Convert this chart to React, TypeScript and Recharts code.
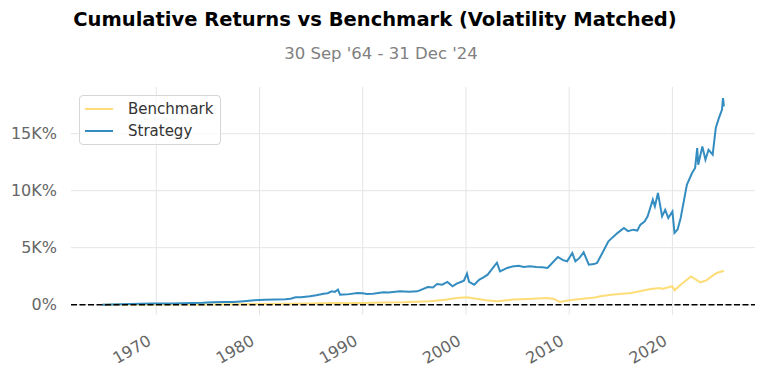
import React from "react";
import { LineChart, Line, XAxis, YAxis, ReferenceLine } from "recharts";

const strategyYears = [1964.75,1965.5,1966.5,1967.5,1968.5,1969.5,1970.5,1971.5,1972.5,1973.5,1974.5,1975.5,1976.5,1977.5,1978.5,1979.5,1980.5,1981.5,1982.5,1983.0,1983.5,1984.0,1984.9,1985.5,1986.2,1986.6,1987.0,1987.3,1987.6,1987.8,1988.5,1989.5,1990.0,1990.4,1991.0,1992.0,1992.5,1993.6,1994.5,1995.3,1996.3,1996.8,1997.2,1997.7,1998.2,1998.7,1999.1,1999.5,1999.8,2000.1,2000.3,2000.8,2001.3,2001.7,2002.1,2002.5,2003.0,2003.3,2003.7,2004.0,2004.5,2005.1,2005.6,2006.2,2006.8,2007.4,2007.9,2008.4,2008.9,2009.4,2009.8,2010.3,2010.6,2011.0,2011.4,2011.9,2012.4,2012.7,2013.3,2013.8,2014.2,2014.7,2015.3,2015.7,2016.2,2016.6,2016.9,2017.3,2017.6,2018.1,2018.3,2018.6,2019.0,2019.3,2019.6,2020.0,2020.2,2020.5,2020.8,2021.1,2021.4,2021.9,2022.2,2022.4,2022.5,2022.9,2023.2,2023.5,2023.9,2024.2,2024.5,2024.8,2024.9,2024.99];
const strategyValues = [0,20,40,60,80,90,100,110,120,140,160,210,220,240,300,380,430,460,480,520,640,640,730,820,960,1000,1170,1120,1320,880,900,1030,1000,940,960,1080,1060,1170,1120,1170,1550,1500,1810,1750,1990,1610,1850,1990,2100,2720,2000,1750,2200,2400,2630,3100,3680,2920,3100,3220,3350,3420,3300,3360,3300,3280,3220,3700,4180,3900,3800,4530,3800,4100,4590,3510,3560,3660,4680,5550,5900,6300,6720,6450,6580,6500,7020,7300,7750,9210,8620,9800,7750,8330,7600,8180,6290,6600,7600,9060,10520,11550,12000,13740,12280,13880,12720,13590,13160,15500,16370,17100,18130,17390];

const benchmarkYears = [1964.75,1967,1970,1973,1975,1978,1980,1983,1985,1987.6,1988,1990,1992,1994,1996.5,1998,1999.1,2000.1,2001,2002,2003,2004.6,2006,2007.9,2008.5,2009.1,2010,2011.1,2012.5,2013,2014.3,2016,2017.9,2018.8,2019,2020,2020.2,2020.8,2021.8,2022.7,2023.3,2023.8,2024.3,2024.99];
const benchmarkValues = [0,5,10,20,20,40,60,80,100,150,120,150,180,200,290,420,590,640,520,380,290,440,500,590,500,240,380,500,620,730,880,1030,1380,1460,1380,1610,1260,1750,2480,1960,2130,2480,2780,2980];

const xTicks = [1970, 1980, 1990, 2000, 2010, 2020];
const yTicks = [0, 5000, 10000, 15000];
const yTickLabels = ["0%", "5K%", "10K%", "15K%"];

const strategyData = strategyYears.map((x, i) => ({ x, v: strategyValues[i] }));
const benchmarkData = benchmarkYears.map((x, i) => ({ x, v: benchmarkValues[i] }));

const FONT = "DejaVu Sans, sans-serif";
const GRID = "#e5e5e5";

const XTick = (props: any) => {
  const { x, y, payload } = props;
  return (
    <g transform={`translate(${x - 4},${y + 29})`}>
      <text textAnchor="end" transform="rotate(-30)" fill="#666" fontSize={16} fontFamily={FONT}>
        {payload.value}
      </text>
    </g>
  );
};

const LegendBox = () => (
  <div
    style={{
      position: "absolute",
      left: 79,
      top: 95,
      width: 142,
      height: 50,
      border: "1px solid #d6d6d6",
      borderRadius: 4,
      background: "rgba(255,255,255,0.8)",
      fontFamily: FONT,
      fontSize: 15,
      color: "#333",
      boxSizing: "border-box",
      paddingTop: 2,
    }}
  >
    {[
      { name: "Benchmark", color: "#fedd78" },
      { name: "Strategy", color: "#348dc1" },
    ].map((e) => (
      <div key={e.name} style={{ display: "flex", alignItems: "center", height: 22 }}>
        <div style={{ width: 28, height: 2, background: e.color, marginLeft: 5, marginRight: 15 }} />
        <span>{e.name}</span>
      </div>
    ))}
  </div>
);

export default function App() {
  return (
    <div style={{ position: "absolute", left: 0, top: 0, width: 764, height: 376, background: "#fff" }}>
      <LineChart width={764} height={376} margin={{ top: 87, right: 9, bottom: 0, left: 0 }}>
        <text x={375} y={26} textAnchor="middle" fontFamily={FONT} fontWeight="bold" fontSize={19.5} fill="#000">
          Cumulative Returns vs Benchmark (Volatility Matched)
        </text>
        <text x={381} y={59} textAnchor="middle" fontFamily={FONT} fontSize={16.5} fill="#808080">
          30 Sep '64 - 31 Dec '24
        </text>
        <XAxis
          dataKey="x"
          type="number"
          domain={[1961.74, 2028.0]}
          ticks={xTicks}
          allowDataOverflow
          axisLine={false}
          tickLine={false}
          tickSize={0}
          tickMargin={0}
          height={61}
          tick={<XTick />}
          interval={0}
        />
        <YAxis
          type="number"
          domain={[-910, 19100]}
          ticks={yTicks}
          allowDataOverflow
          axisLine={false}
          tickLine={false}
          tickSize={0}
          tickMargin={14}
          width={71}
          interval={0}
          tickFormatter={(v: number) => yTickLabels[yTicks.indexOf(v)]}
          tick={{ fill: "#666", fontSize: 16, fontFamily: FONT }}
        />
        {xTicks.map((t) => (
          <ReferenceLine key={"gx" + t} x={t} stroke={GRID} strokeWidth={1} />
        ))}
        {yTicks.map((t) => (
          <ReferenceLine key={"gy" + t} y={t} stroke={GRID} strokeWidth={1} />
        ))}
        <Line data={benchmarkData} dataKey="v" name="Benchmark" stroke="#fedd78" strokeWidth={2} dot={false} isAnimationActive={false} />
        <Line data={strategyData} dataKey="v" name="Strategy" stroke="#348dc1" strokeWidth={2} dot={false} isAnimationActive={false} />
        <ReferenceLine y={0} stroke="#000" strokeWidth={1.5} strokeDasharray="6 2.5" />
      </LineChart>
      <LegendBox />
    </div>
  );
}
